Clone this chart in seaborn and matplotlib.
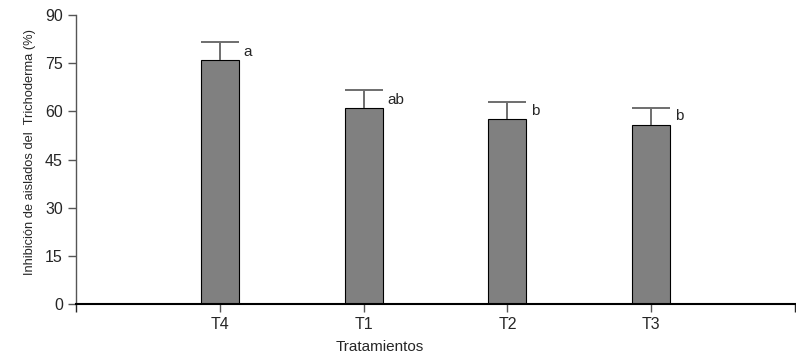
import seaborn as sns
import matplotlib.pyplot as plt
import numpy as np

tratamientos = ['T4', 'T1', 'T2', 'T3']
inhibicion = [76.0, 61.0, 57.6, 55.8]
error = [5.6, 5.6, 5.3, 5.2]
letras = ['a', 'ab', 'b', 'b']

sns.set_style('ticks')
plt.rcParams['font.family'] = ['Liberation Sans', 'DejaVu Sans']

fig = plt.figure(figsize=(7.96, 3.62), dpi=100)
ax = fig.add_axes([76 / 796, 58 / 362, 719 / 796, 289 / 362])

ancho = 0.265
sns.barplot(x=tratamientos, y=inhibicion, color='#808080', width=ancho,
            edgecolor='black', linewidth=0.8, saturation=1, ax=ax)

# barras de error solo hacia arriba
pos = np.arange(len(tratamientos))
sup = np.array(inhibicion) + np.array(error)
ax.vlines(pos, inhibicion, sup, color='#6e6e6e', lw=1.4, zorder=3)
ax.hlines(sup, pos - ancho / 2, pos + ancho / 2, color='#6e6e6e', lw=1.4, zorder=3)

for i, (v, l) in enumerate(zip(inhibicion, letras)):
    ax.text(i + 0.165, v + 2.6, l, ha='left', va='center', fontsize=11)

ax.set_xlim(-1, 4)
ax.set_ylim(0, 90)
ax.set_yticks([0, 15, 30, 45, 60, 75, 90])
ax.set_xticks([-1, 4], minor=True)
ax.tick_params(axis='both', labelsize=11.5, length=6, width=1, color='#555555')
ax.tick_params(axis='x', which='minor', length=6, width=1)
ax.set_xlabel('Tratamientos', fontsize=11, va='center')
ax.xaxis.set_label_coords((380 - 76) / 719, -43 / 289)
ax.set_ylabel('Inhibición de aislados del  Trichoderma (%)', fontsize=9.3, va='center')
ax.yaxis.set_label_coords((30 - 76) / 719, (304 - 152) / 289)
sns.despine(ax=ax)
ax.spines['bottom'].set_linewidth(1.5)
ax.spines['bottom'].set_color('black')
ax.spines['left'].set_linewidth(1)
ax.spines['left'].set_color('#555555')

fig.savefig('out.png', dpi=100)
